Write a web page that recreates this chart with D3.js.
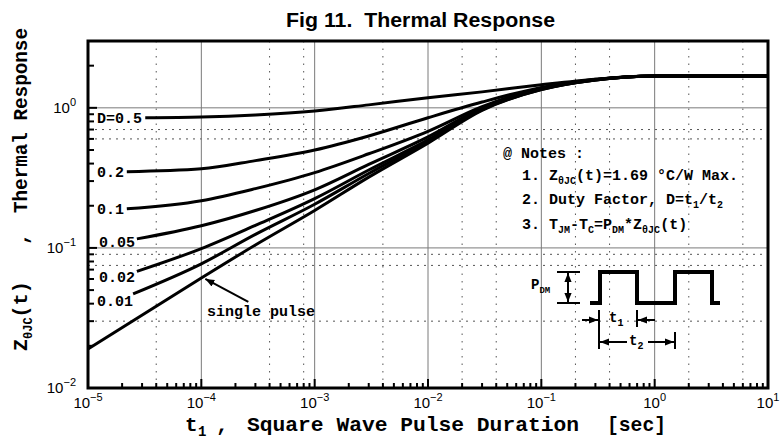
<!DOCTYPE html>
<html>
<head>
<meta charset="utf-8">
<script src="https://cdn.jsdelivr.net/npm/d3@7"></script>
<style>
  body { margin: 0; background: #fff; }
  text { fill: #000; white-space: pre; }
  .mono { font-family: "Liberation Mono", "DejaVu Sans Mono", monospace; font-weight: bold; }
  .sans { font-family: "Liberation Sans", Arial, sans-serif; }
</style>
</head>
<body>
<script>
// data
const tKnots = [1e-4, 3e-4, 1e-3, 3e-3, 1e-2, 3e-2, 1e-1, 3e-1, 1, 10];
const dutyLabels = ["D=0.5", "0.2", "0.1", "0.05", "0.02", "0.01", "single pulse"];
const startT = [3.2e-5, 2.2e-5, 2.2e-5, 2.7e-5, 2.7e-5, 2.5e-5, 1e-5];
const startZ = [0.85, 0.35, 0.19, 0.116, 0.068, 0.047, 0.019];
const zD50 = [0.86, 0.89, 0.95, 1.05, 1.18, 1.30, 1.46, 1.60, 1.69, 1.69];
const zD20 = [0.367, 0.42, 0.50, 0.63, 0.85, 1.10, 1.40, 1.60, 1.69, 1.69];
const zD10 = [0.217, 0.265, 0.345, 0.47, 0.68, 1.02, 1.38, 1.59, 1.69, 1.69];
const zD05 = [0.144, 0.185, 0.26, 0.395, 0.62, 1.00, 1.37, 1.59, 1.69, 1.69];
const zD02 = [0.099, 0.145, 0.225, 0.36, 0.59, 0.98, 1.36, 1.58, 1.69, 1.69];
const zD01 = [0.077, 0.125, 0.205, 0.34, 0.575, 0.97, 1.35, 1.58, 1.69, 1.69];
const zSingle = [0.061, 0.105, 0.185, 0.32, 0.56, 0.96, 1.35, 1.58, 1.69, 1.69];
const xDecades = [1e-5, 1e-4, 1e-3, 1e-2, 1e-1, 1, 10];
const yDecades = [1e-2, 1e-1, 1];
const xDotted = [4e-5, 4e-4, 8e-4, 4e-3, 2e-2, 4e-2, 2e-1, 4e-1, 2, 6];
const yDotted = [0.7, 0.6, 0.09, 0.075, 0.03];

const width = 780, height = 441;
const margin = { top: 41, right: 12, bottom: 53, left: 88 };

const svg = d3.select("body").append("svg")
  .attr("width", width)
  .attr("height", height);

const x = d3.scaleLog().domain([1e-5, 10]).range([margin.left, width - margin.right]);
const y = d3.scaleLog().domain([0.01, 3]).range([height - margin.bottom, margin.top]);
const x0 = margin.left, x1 = width - margin.right;
const y0 = height - margin.bottom, y1 = margin.top;

const defs = svg.append("defs");
defs.append("marker")
  .attr("id", "arrow")
  .attr("viewBox", "0 0 10 10")
  .attr("refX", 10).attr("refY", 5)
  .attr("markerWidth", 9).attr("markerHeight", 9)
  .attr("markerUnits", "userSpaceOnUse")
  .attr("orient", "auto")
  .append("path").attr("d", "M0,1 L10,5 L0,9 z").attr("fill", "#000");

// dotted grid
const grid = svg.append("g");
grid.selectAll(".vdot").data(xDotted).enter().append("line")
  .attr("x1", d => x(d)).attr("x2", d => x(d))
  .attr("y1", y1).attr("y2", y0)
  .attr("stroke", "#555").attr("stroke-width", 1)
  .attr("stroke-dasharray", "1.5,6");
grid.selectAll(".hdot").data(yDotted).enter().append("line")
  .attr("y1", d => y(d)).attr("y2", d => y(d))
  .attr("x1", x0).attr("x2", x1)
  .attr("stroke", "#555").attr("stroke-width", 1)
  .attr("stroke-dasharray", "2,5");

// solid decade grid
grid.selectAll(".vgrid").data(xDecades.slice(1, -1)).enter().append("line")
  .attr("x1", d => x(d)).attr("x2", d => x(d))
  .attr("y1", y1).attr("y2", y0)
  .attr("stroke", "#7a7a7a").attr("stroke-width", 1);
grid.selectAll(".hgrid").data(yDecades.slice(1)).enter().append("line")
  .attr("y1", d => y(d)).attr("y2", d => y(d))
  .attr("x1", x0).attr("x2", x1)
  .attr("stroke", "#7a7a7a").attr("stroke-width", 1);

// ticks, inside the frame
const isDecade = v => Math.abs(Math.log10(v) - Math.round(Math.log10(v))) < 1e-6;
svg.append("g").selectAll("line")
  .data(x.ticks())
  .enter().append("line")
  .attr("x1", d => x(d)).attr("x2", d => x(d))
  .attr("y1", y0).attr("y2", d => y0 - (isDecade(d) ? 9 : 5))
  .attr("stroke", "#000").attr("stroke-width", 2);
svg.append("g").selectAll("line")
  .data(y.ticks())
  .enter().append("line")
  .attr("y1", d => y(d)).attr("y2", d => y(d))
  .attr("x1", x0).attr("x2", d => x0 + (isDecade(d) ? 9 : 6))
  .attr("stroke", "#000").attr("stroke-width", 2);

// tick labels
const expText = d => {
  const e = Math.round(Math.log10(d));
  return e < 0 ? "\u2212" + (-e) : String(e);
};
const xl = svg.append("g").attr("class", "sans").attr("font-size", 15);
xDecades.forEach(d => {
  const t = xl.append("text")
    .attr("x", x(d)).attr("y", y0 + 20)
    .attr("text-anchor", "middle");
  t.append("tspan").text("10");
  t.append("tspan").attr("dy", -7).attr("font-size", 11).text(expText(d));
});

const yl = svg.append("g").attr("class", "sans").attr("font-size", 15);
yDecades.forEach(d => {
  const t = yl.append("text")
    .attr("x", x0 - 12).attr("y", y(d) + 5)
    .attr("text-anchor", "end");
  t.append("tspan").text("10");
  t.append("tspan").attr("dy", -7).attr("font-size", 11).text(expText(d));
});

// curves
const zSeries = [zD50, zD20, zD10, zD05, zD02, zD01, zSingle];
const line = d3.line()
  .x(d => x(d[0]))
  .y(d => y(d[1]))
  .curve(d3.curveMonotoneX);

const curves = zSeries.map((zs, i) =>
  [[startT[i], startZ[i]]].concat(tKnots.map((t, j) => [t, zs[j]])));

svg.append("g").selectAll("path")
  .data(curves)
  .enter().append("path")
  .attr("d", line)
  .attr("fill", "none")
  .attr("stroke", "#000")
  .attr("stroke-width", 3)
  .attr("stroke-linejoin", "round");

// frame
svg.append("rect")
  .attr("x", x0).attr("y", y1)
  .attr("width", x1 - x0).attr("height", y0 - y1)
  .attr("fill", "none").attr("stroke", "#000").attr("stroke-width", 3);

// duty labels
const labelX = [97, 97, 97, 99, 99, 97];
const labelDy = [5, 5, 5, 8, 11, 12];
svg.append("g").attr("class", "mono").attr("font-size", 15)
  .selectAll("text")
  .data(dutyLabels.slice(0, 6))
  .enter().append("text")
  .attr("x", (d, i) => labelX[i])
  .attr("y", (d, i) => y(startZ[i]) + labelDy[i])
  .text(d => d);

// single pulse callout
const spx = x(tKnots[0]), spy = y(zSingle[0]);
svg.append("line")
  .attr("x1", spx + 47).attr("y1", spy + 24)
  .attr("x2", spx + 4).attr("y2", spy + 1)
  .attr("stroke", "#000").attr("stroke-width", 2)
  .attr("marker-end", "url(#arrow)");
svg.append("text").attr("class", "mono").attr("font-size", 15)
  .attr("x", 207).attr("y", 316)
  .text(dutyLabels[6]);

// title
svg.append("text").attr("class", "sans")
  .attr("font-weight", "bold").attr("font-size", 20)
  .attr("x", 286).attr("y", 27)
  .attr("textLength", 269).attr("lengthAdjust", "spacingAndGlyphs")
  .text("Fig 11.  Thermal Response");

// x axis title
const xt = svg.append("g").attr("class", "mono").attr("font-size", 21);
xt.append("text").attr("x", 185).attr("y", 431).text("t");
xt.append("text").attr("x", 198).attr("y", 436).attr("font-size", 14).text("1");
xt.append("text").attr("x", 216).attr("y", 431).text(",");
xt.append("text").attr("x", 247).attr("y", 431)
  .attr("textLength", 332).attr("lengthAdjust", "spacingAndGlyphs")
  .text("Square Wave Pulse Duration");
xt.append("text").attr("x", 607).attr("y", 431)
  .attr("textLength", 59).attr("lengthAdjust", "spacingAndGlyphs")
  .text("[sec]");

// y axis title
const yt = svg.append("g").attr("class", "mono").attr("font-size", 20)
  .attr("transform", "rotate(-90)");
yt.append("text").attr("x", -213).attr("y", 27)
  .attr("textLength", 185).attr("lengthAdjust", "spacingAndGlyphs")
  .text("Thermal Response");
yt.append("text").attr("x", -245).attr("y", 27).text(",");
const zt = yt.append("text").attr("x", -351).attr("y", 27);
zt.append("tspan").text("Z");
zt.append("tspan").attr("dy", 5).attr("font-size", 12).text("\u03b8JC");
zt.append("tspan").attr("dy", -5).text("(t)");

// notes
const notes = svg.append("g").attr("class", "mono").attr("font-size", 15);
notes.append("text").attr("x", 503).attr("y", 158).text("@ Notes :");
const n1 = notes.append("text").attr("x", 522).attr("y", 180);
n1.append("tspan").text("1. Z");
n1.append("tspan").attr("dy", 4).attr("font-size", 10).text("\u03b8JC");
n1.append("tspan").attr("dy", -4).text("(t)=1.69 \u00b0C/W Max.");
const n2 = notes.append("text").attr("x", 522).attr("y", 204);
n2.append("tspan").text("2. Duty Factor, D=t");
n2.append("tspan").attr("dy", 4).attr("font-size", 10).text("1");
n2.append("tspan").attr("dy", -4).text("/t");
n2.append("tspan").attr("dy", 4).attr("font-size", 10).text("2");
const n3 = notes.append("text").attr("x", 522).attr("y", 229);
n3.append("tspan").text("3. T");
n3.append("tspan").attr("dy", 4).attr("font-size", 10).text("JM");
n3.append("tspan").attr("dy", -4).text("-T");
n3.append("tspan").attr("dy", 4).attr("font-size", 10).text("C");
n3.append("tspan").attr("dy", -4).text("=P");
n3.append("tspan").attr("dy", 4).attr("font-size", 10).text("DM");
n3.append("tspan").attr("dy", -4).text("*Z");
n3.append("tspan").attr("dy", 4).attr("font-size", 10).text("\u03b8JC");
n3.append("tspan").attr("dy", -4).text("(t)");

// pulse sketch
const pulse = svg.append("g");
pulse.append("path")
  .attr("d", "M590,303 H600 V272 H637 V303 H675 V272 H712 V303 H720")
  .attr("fill", "none").attr("stroke", "#000").attr("stroke-width", 4);
const dim = (xa, ya, xb, yb, head) => pulse.append("line")
  .attr("x1", xa).attr("y1", ya).attr("x2", xb).attr("y2", yb)
  .attr("stroke", "#000").attr("stroke-width", 2)
  .attr("marker-end", head ? "url(#arrow)" : null);
dim(557, 272, 580, 272); dim(557, 303, 580, 303);
dim(568, 288, 568, 273, true); dim(568, 288, 568, 302, true);
dim(599, 310, 599, 349); dim(637, 310, 637, 327); dim(675, 332, 675, 349);
dim(582, 320, 598, 320, true); dim(655, 320, 638, 320, true);
dim(627, 342, 600, 342, true); dim(648, 342, 674, 342, true);
const pl = pulse.append("text").attr("class", "mono").attr("font-size", 14)
  .attr("x", 531).attr("y", 289);
pl.append("tspan").text("P");
pl.append("tspan").attr("dy", 4).attr("font-size", 9).text("DM");
const t1 = pulse.append("text").attr("class", "mono").attr("font-size", 14)
  .attr("x", 609).attr("y", 322);
t1.append("tspan").text("t");
t1.append("tspan").attr("dy", 4).attr("font-size", 10).text("1");
const t2 = pulse.append("text").attr("class", "mono").attr("font-size", 14)
  .attr("x", 629).attr("y", 345);
t2.append("tspan").text("t");
t2.append("tspan").attr("dy", 4).attr("font-size", 10).text("2");
</script>
</body>
</html>
